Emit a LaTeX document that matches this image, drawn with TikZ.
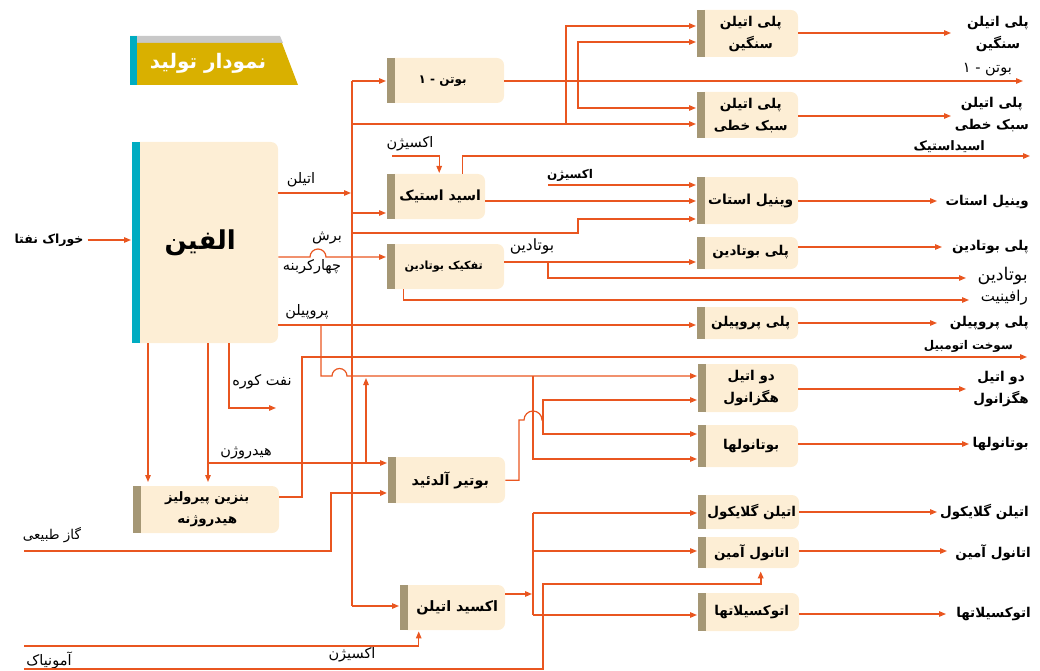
\documentclass[tikz,border=0pt]{standalone}
\usepackage{fontspec}
\newfontfamily\fafont[Script=Arabic]{DejaVu Sans}
\TeXXeTstate=1
\newcommand\fa[1]{{\fafont\beginR #1\endR}}
\usetikzlibrary{arrows.meta}
\definecolor{lc}{RGB}{233,86,32}
\definecolor{cream}{RGB}{253,238,213}
\definecolor{stripc}{RGB}{165,151,117}
\definecolor{tealc}{RGB}{0,172,193}
\definecolor{goldc}{RGB}{217,176,0}
\definecolor{greyb}{RGB}{200,200,200}
% name, x1, y1, x2, y2, strip colour, text x-shift, content
\newcommand\mkbox[8]{%
  \fill[cream,rounded corners=7pt] (#2,#3) rectangle (#4,#5);
  \fill[cream] (#2,#3) rectangle ({#2+20},#5);
  \fill[#6] (#2,#3) rectangle ({#2+8},#5);
  \node[inner sep=0pt,anchor=north west,minimum width={(#4-#2)*1pt},minimum height={(#5-#3)*1pt}] (#1) at (#2,#3) {};
  \node[boxn] (#1t) at ([xshift=#7pt]#1.center) {#8};
}
\begin{document}
\begin{tikzpicture}[x=1pt,y=-1pt,
  ln/.style={draw=lc,line width=1.2pt},
  thk/.style={draw=lc,line width=1.9pt},
  arr/.style={ln,-{Triangle[length=7pt,width=5.5pt]},shorten >=1pt},
  arrk/.style={thk,-{Triangle[length=7pt,width=5.5pt]},shorten >=1pt},
  boxn/.style={inner sep=0pt,font=\bfseries\fontsize{13.5}{22}\selectfont,align=center},
  lab/.style={inner sep=0pt,font=\fontsize{14.5}{16}\selectfont},
  outl/.style={inner sep=0pt,anchor=east,font=\bfseries\fontsize{13.5}{22}\selectfont,align=center},
]
\useasboundingbox (0,0) rectangle (1040,671);
% title banner
\fill[greyb] (130,36) -- (280,36) -- (283,43) -- (130,43) -- cycle;
\fill[goldc] (137,43) -- (282,43) -- (298,85) -- (137,85) -- cycle;
\fill[tealc] (130,36) rectangle (137,85);
\node[inner sep=0pt,text=white,font=\bfseries\fontsize{20}{22}\selectfont] (title) at (208,63) {\fa{نمودار تولید}};
% boxes
\mkbox{olefin}{132}{142}{278}{343}{tealc}{-5}{\fontsize{26}{28}\selectfont\fa{الفین}}
\mkbox{bone}{387}{58}{504}{103}{stripc}{-3}{\fontsize{12}{13}\selectfont\fa{بوتن - ۱}}
\mkbox{acetic}{387}{174}{485}{219}{stripc}{4}{\fontsize{14}{16}\selectfont\fa{اسید استیک}}
\mkbox{bsep}{387}{244}{504}{289}{stripc}{-2}{\fontsize{11.2}{13}\selectfont\fa{تفکیک بوتادین}}
\mkbox{pygas}{133}{486}{279}{533}{stripc}{1}{\fontsize{13}{23}\selectfont\fa{بنزین پیرولیز}\\\fa{هیدروژنه}}
\mkbox{butald}{388}{457}{505}{503}{stripc}{3.5}{\fontsize{14.3}{16}\selectfont\fa{بوتیر آلدئید}}
\mkbox{eox}{400}{585}{505}{630}{stripc}{4.5}{\fontsize{14.3}{16}\selectfont\fa{اکسید اتیلن}}
\mkbox{hdpe}{697}{10}{798}{57}{stripc}{3}{\fa{پلی اتیلن}\\\fa{سنگین}}
\mkbox{lldpe}{697}{92}{798}{138}{stripc}{3}{\fa{پلی اتیلن}\\\fa{سبک خطی}}
\mkbox{vam}{697}{177}{798}{224}{stripc}{3}{\fontsize{13.8}{16}\selectfont\fa{وینیل استات}}
\mkbox{pbd}{697}{237}{798}{269}{stripc}{3}{\raisebox{5pt}{\fa{پلی بوتادین}}}
\mkbox{pp}{697}{307}{798}{339}{stripc}{3}{\fa{پلی پروپیلن}}
\mkbox{ehex}{698}{364}{798}{412}{stripc}{3}{\fa{دو اتیل}\\\fa{هگزانول}}
\mkbox{buol}{698}{425}{798}{467}{stripc}{3}{\raisebox{2pt}{\fa{بوتانولها}}}
\mkbox{eg}{698}{495}{799}{529}{stripc}{3}{\fa{اتیلن گلایکول}}
\mkbox{ea}{698}{537}{799}{568}{stripc}{3}{\fa{اتانول آمین}}
\mkbox{etox}{698}{593}{799}{631}{stripc}{3}{\fa{اتوکسیلاتها}}
% free labels
\node[outl,anchor=center,font=\bfseries\fontsize{12.5}{14}\selectfont] (feed) at (49,240) {\fa{خوراک نفتا}};
\node[lab] (lEth) at (301,180) {\fa{اتیلن}};
\node[lab] (lCut1) at (327,238) {\fa{برش}};
\node[lab] (lCut2) at (312,267) {\fa{چهارکربنه}};
\node[lab] (lProp) at (307,312) {\fa{پروپیلن}};
\node[lab] (lFO) at (262,382) {\fa{نفت کوره}};
\node[lab] (lH2) at (246,453) {\fa{هیدروژن}};
\node[lab,font=\fontsize{15.5}{17}\selectfont] (lBD) at (532,247) {\fa{بوتادین}};
\node[lab] (lOx1) at (410,144) {\fa{اکسیژن}};
\node[lab,font=\bfseries\fontsize{12}{14}\selectfont] (lOx2) at (570,175) {\fa{اکسیژن}};
\node[lab] (lOx3) at (352,655) {\fa{اکسیژن}};
\node[lab,font=\fontsize{13.5}{15}\selectfont] (lGas) at (52,535) {\fa{گاز طبیعی}};
\node[lab] (lAm) at (49,660) {\fa{آمونیاک}};
% output labels
\node[outl] (hdpeO) at (1029,34) {\fa{پلی اتیلن}\\\fa{سنگین}};
\node[outl] (lldpeO) at (1029,115) {\fa{پلی اتیلن}\\\fa{سبک خطی}};
\node[lab,anchor=east,font=\fontsize{14.5}{16}\selectfont] (boneO) at (1012,70) {\fa{بوتن - ۱}};
\node[outl,font=\bfseries\fontsize{13}{15}\selectfont] (aceticO) at (985,147) {\fa{اسیداستیک}};
\node[outl] (vamO) at (1029,202) {\fa{وینیل استات}};
\node[outl] (pbdO) at (1029,247) {\fa{پلی بوتادین}};
\node[lab,anchor=east,font=\fontsize{17.5}{19}\selectfont] (bdO) at (1028,276) {\fa{بوتادین}};
\node[lab,anchor=east,font=\fontsize{15}{17}\selectfont] (rafO) at (1028,298) {\fa{رافینیت}};
\node[outl] (ppO) at (1029,323) {\fa{پلی پروپیلن}};
\node[outl,font=\bfseries\fontsize{12}{14}\selectfont] (fuelO) at (1013,346) {\fa{سوخت اتومبیل}};
\node[outl] (ehexO) at (1029,389) {\fa{دو اتیل}\\\fa{هگزانول}};
\node[outl] (buolO) at (1029,444) {\fa{بوتانولها}};
\node[outl] (egO) at (1029,512) {\fa{اتیلن گلایکول}};
\node[outl] (eaO) at (1031,553) {\fa{اتانول آمین}};
\node[outl] (etoxO) at (1031,614) {\fa{اتوکسیلاتها}};
% named free ends
\coordinate (hdpeT) at (952,33);
\coordinate (lldpeT) at (952,116);
\coordinate (boneT) at (1024,81);
\coordinate (aceticT) at (1031,156);
\coordinate (vamT) at (938,201);
\coordinate (pbdT) at (943,247);
\coordinate (bdT) at (967,278);
\coordinate (rafT) at (970,300);
\coordinate (ppT) at (938,323);
\coordinate (fuelT) at (1028,357);
\coordinate (ehexT) at (967,389);
\coordinate (buolT) at (970,444);
\coordinate (egT) at (938,512);
\coordinate (eaT) at (948,551);
\coordinate (etoxT) at (947,614);
\coordinate (gasS) at (24,551);
\coordinate (oxS) at (24,646);
\coordinate (amS) at (24,669);
\coordinate (ox1S) at (392,156);
\coordinate (ox2S) at (548,185);
\coordinate (busTop) at (352,81);
\coordinate (busBot) at (352,606);
\coordinate (fuelOilT) at (277,408);
% connectors
\draw[arr] ([xshift=4pt]feed.east) -- (feed.east -| olefin.west);
\draw[ln,line width=1.4pt] (busTop) -- (busBot);
\draw[arr] (busTop) -- (busTop -| bone.west);
\draw[arr] (olefin.east |- 0,193) -- (352,193);
\draw[arr] (352,124) -- (lldpe.west |- 0,124);
\draw[arr] (566,124) |- (hdpe.west |- 0,26);
\draw[arr] (bone.east |- boneT) -- (boneT);
\draw[arr] (578,81) |- (hdpe.west |- 0,42);
\draw[arr] (578,81) |- (lldpe.west |- 0,108);
\draw[arr] (hdpe.east |- hdpeT) -- (hdpeT);
\draw[arr] (lldpe.east |- lldpeT) -- (lldpeT);
\draw[arr] (352,213) -- (acetic.west |- 0,213);
\draw[arrk] (352,233) -- (578,233) -- (578,219) -- (vam.west |- 0,219);
\draw[arr] (ox1S) -| ([xshift=3pt]acetic.north);
\draw[arr] ([xshift=26pt]acetic.north) |- (aceticT);
\draw[arr] (acetic.east |- 0,201) -- (vam.west |- 0,201);
\draw[arr] (ox2S) -- (vam.west |- ox2S);
\draw[arr] (vam.east |- vamT) -- (vamT);
\draw[arr] (olefin.east |- 0,257) -- (310,257) arc[start angle=180,end angle=0,radius=8pt] -- (bsep.west |- 0,257);
\draw[arr] (bsep.east |- 0,262) -- (pbd.west |- 0,262);
\draw[arr] (548,262) |- (bdT);
\draw[arr] ([xshift=-42pt]bsep.south) |- (rafT);
\draw[arr] (pbd.east |- pbdT) -- (pbdT);
\draw[arr] (olefin.east |- 0,325) -- (pp.west |- 0,325);
\draw[arr] (321,325) -- (321,376) -- (332,376) arc[start angle=180,end angle=0,radius=7.5pt] -- (ehex.west |- 0,376);
\draw[arr] (533,376) |- (buol.west |- 0,459);
\draw[arr] (pp.east |- ppT) -- (ppT);
\draw[arr] (pygas.east |- 0,497) -| (302,357) -- (fuelT);
\draw[arr,shorten >=4pt] (olefin.south -| 148,0) -- (pygas.north -| 148,0);
\draw[arr,shorten >=4pt] (olefin.south -| 208,0) -- (pygas.north -| 208,0);
\draw[arr] (208,463) -- (butald.west |- 0,463);
\draw[arr] (366,463) -- (366,377);
\draw[arr] (olefin.south -| 229,0) |- (fuelOilT);
\draw[arrk] (gasS) -| (331,493) -- (butald.west |- 0,493);
\draw[ln] (butald.east) -| (519,420) -- (524,420) arc[start angle=180,end angle=0,radius=9pt] -- (543,420);
\draw[arr] (543,420) |- (ehex.west |- 0,400);
\draw[arr] (543,420) |- (buol.west |- 0,434);
\draw[arr] (ehex.east |- ehexT) -- (ehexT);
\draw[arr] (buol.east |- buolT) -- (buolT);
\draw[arr] (busBot) -- (busBot -| eox.west);
\draw[arr] (oxS) -| ([xshift=-34pt]eox.south);
\draw[arr] (eox.east |- 0,594) -- (533,594);
\draw[ln] (533,513) -- (533,615);
\draw[arr] (533,513) -- (eg.west |- 0,513);
\draw[arr] (533,551) -- (ea.west |- 0,551);
\draw[arr] (533,615) -- (etox.west |- 0,615);
\draw[arrk,shorten >=3pt] (amS) -| (543,584) -| ([xshift=12pt]ea.south);
\draw[arr] (eg.east |- egT) -- (egT);
\draw[arr] (ea.east |- eaT) -- (eaT);
\draw[arr] (etox.east |- etoxT) -- (etoxT);
\end{tikzpicture}
\end{document}
